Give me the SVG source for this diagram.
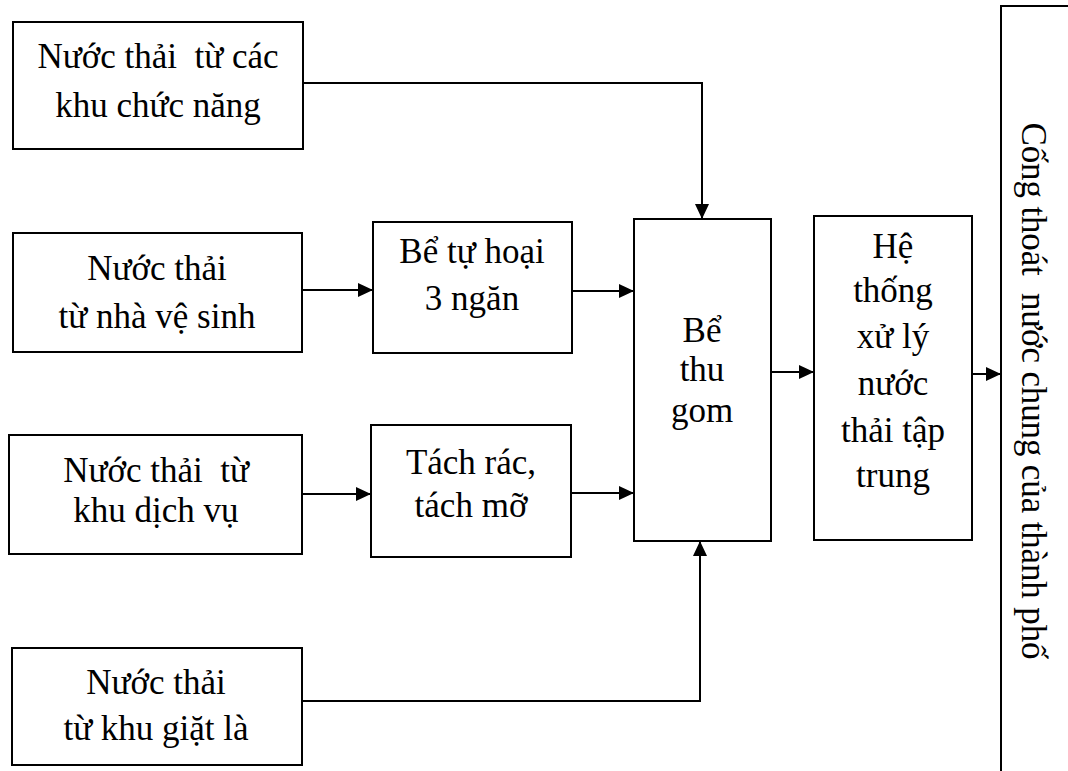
<svg xmlns="http://www.w3.org/2000/svg" width="1068" height="771" viewBox="0 0 1068 771">
<defs>
<marker id="arr" viewBox="0 0 15 14" markerWidth="15" markerHeight="14" refX="15" refY="7" orient="auto" markerUnits="userSpaceOnUse">
<path d="M0,0 L15,7 L0,14 Z" fill="#000"/>
</marker>
<style>
.box{fill:#fff;stroke:#000;stroke-width:2}
.t{font-size:35px;fill:#000;text-anchor:middle}
.c{fill:none;stroke:#000;stroke-width:2;marker-end:url(#arr)}
</style>
</defs>
<rect width="1068" height="771" fill="#fff"/>
<g id="connectors">
<path class="c" d="M303,83 H702 V219"/>
<path class="c" d="M302,290 H373"/>
<path class="c" d="M572,291 H634"/>
<path class="c" d="M302,494 H371"/>
<path class="c" d="M571,493 H634"/>
<path class="c" d="M302,701 H700 V541"/>
<path class="c" d="M771,372 H814"/>
<path class="c" d="M972,374 H1001"/>
</g>
<g id="nodes" font-family="Liberation Serif, serif">
<g id="n1">
<rect class="box" x="13" y="22" width="290" height="127"/>
<text class="t" x="158" y="68" xml:space="preserve">Nước thải  từ các</text>
<text class="t" x="158" y="117">khu chức năng</text>
</g>
<g id="n2">
<rect class="box" x="13" y="233" width="289" height="119"/>
<text class="t" x="157" y="280">Nước thải</text>
<text class="t" x="157" y="328">từ nhà vệ sinh</text>
</g>
<g id="n3">
<rect class="box" x="9" y="435" width="293" height="119"/>
<text class="t" x="156" y="482" xml:space="preserve">Nước thải  từ</text>
<text class="t" x="156" y="522">khu dịch vụ</text>
</g>
<g id="n4">
<rect class="box" x="12" y="648" width="290" height="117"/>
<text class="t" x="156" y="694">Nước thải</text>
<text class="t" x="156" y="740">từ khu giặt là</text>
</g>
<g id="n5">
<rect class="box" x="373" y="222" width="199" height="131"/>
<text class="t" x="472" y="263">Bể tự hoại</text>
<text class="t" x="472" y="310">3 ngăn</text>
</g>
<g id="n6">
<rect class="box" x="371" y="425" width="200" height="132"/>
<text class="t" x="471" y="474">Tách rác,</text>
<text class="t" x="471" y="517">tách mỡ</text>
</g>
<g id="n7">
<rect class="box" x="634" y="219" width="137" height="322"/>
<text class="t" x="702" y="342">Bể</text>
<text class="t" x="702" y="381">thu</text>
<text class="t" x="702" y="422">gom</text>
</g>
<g id="n8">
<rect class="box" x="814" y="216" width="158" height="324"/>
<text class="t" x="893" y="258">Hệ</text>
<text class="t" x="893" y="302">thống</text>
<text class="t" x="893" y="348">xử lý</text>
<text class="t" x="893" y="395">nước</text>
<text class="t" x="893" y="442">thải tập</text>
<text class="t" x="893" y="487">trung</text>
</g>
<g id="n9">
<rect class="box" x="1001" y="6" width="100" height="800"/>
<text class="t" transform="translate(1022,391) rotate(90)" x="0" y="0" textLength="537" lengthAdjust="spacing" xml:space="preserve">Cống thoát  nước chung của thành phố</text>
</g>
</g>
</svg>
